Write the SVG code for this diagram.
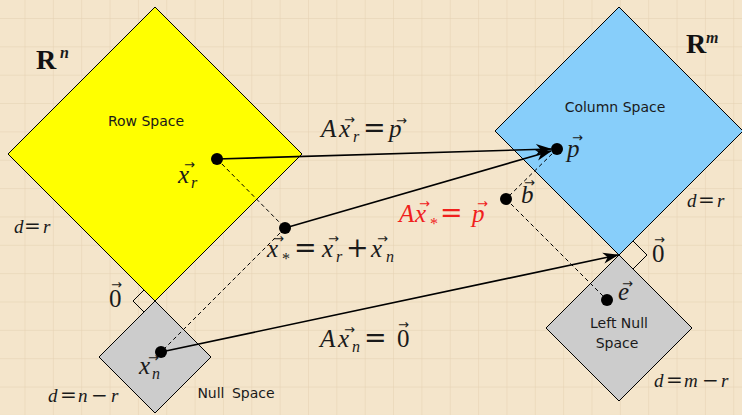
<svg xmlns="http://www.w3.org/2000/svg" width="742" height="415" viewBox="0 0 742 415">
<style>
.bg{fill:#f4e5cb}
.sp{stroke:#000;stroke-width:1}
.sans{font-family:"DejaVu Sans","Liberation Sans",sans-serif;font-size:14px;fill:#1a1a1a}
.m{font-family:"Liberation Serif","Times New Roman",serif;font-style:italic;font-size:25px;fill:#1a1a1a}
.up{font-style:normal}
.op{font-family:"DejaVu Serif",serif;font-style:normal;font-size:27px}
.dop{font-family:"DejaVu Serif",serif;font-style:normal;font-size:20px}
.sub{font-size:16px}
.d{font-family:"Liberation Serif",serif;font-style:italic;font-size:19px;fill:#1a1a1a}
.bold{font-family:"Liberation Serif",serif;font-weight:bold;font-size:28px;fill:#111}
.v{font-family:"DejaVu Sans",sans-serif;font-style:normal;font-size:13px}
.red{fill:#f0201c}
.arr{stroke:#000;stroke-width:1.6;fill:none;marker-end:url(#ah)}
.dash{stroke:#000;stroke-width:1;stroke-dasharray:4 3;fill:none}
.dot{fill:#000}
</style>
<defs>
<pattern id="grid" width="28.35" height="28.35" patternUnits="userSpaceOnUse" x="24.5" y="18">
<path d="M0,0 V28.35 M0,0 H28.35" stroke="#dcc7a6" stroke-width="1" fill="none" opacity="0.7"/>
</pattern>
<marker id="ah" viewBox="-16 -6 17 12" refX="0" refY="0" markerWidth="17" markerHeight="12" markerUnits="userSpaceOnUse" orient="auto">
<path d="M1,0 L-15,-5.5 L-10.5,0 L-15,5.5 Z" fill="#000"/>
</marker>
</defs>
<rect class="bg" x="0" y="0" width="742" height="415"/>
<rect x="0" y="0" width="742" height="415" fill="url(#grid)"/>

<g id="row-space">
<path d="M155,7 L302,154 L155,301 L8,154 Z" fill="#ffff00" class="sp"/>
<text class="sans" x="146" y="126" text-anchor="middle">Row Space</text>
</g>
<g id="null-space">
<path d="M155,301 L211,357 L155,413 L99,357 Z" fill="#cccccc" class="sp"/>
<text class="sans" x="236" y="398" text-anchor="middle" word-spacing="3">Null Space</text>
</g>
<g id="column-space">
<path d="M619,7 L743,131 L619,255 L495,131 Z" fill="#87cefa" class="sp"/>
<text class="sans" x="615" y="112" text-anchor="middle">Column Space</text>
</g>
<g id="left-null-space">
<path d="M619,255 L692,328 L619,401 L546,328 Z" fill="#cccccc" class="sp"/>
<text class="sans" x="619" y="328" text-anchor="middle">Left Null</text>
<text class="sans" x="617" y="348" text-anchor="middle">Space</text>
</g>

<g id="right-angles" fill="none" stroke="#000" stroke-width="1">
<path d="M144,290 L133,301 L144,312"/>
<path d="M633,241 L647,255 L633,269"/>
</g>

<g id="connectors">
<path class="dash" d="M217,159 L285,228"/>
<path class="dash" d="M285,228 L161,352"/>
<path class="dash" d="M557,149 L506,199"/>
<path class="dash" d="M506,199 L607,300"/>
<path class="arr" d="M217,159 L551,149"/>
<path class="arr" d="M285,228 L551,151"/>
<path class="arr" d="M161,352 L618,255"/>
</g>

<g id="points">
<circle class="dot" cx="217" cy="159" r="6"/>
<circle class="dot" cx="285" cy="228" r="6"/>
<circle class="dot" cx="161" cy="352" r="6"/>
<circle class="dot" cx="557" cy="149" r="6"/>
<circle class="dot" cx="506" cy="199" r="6"/>
<circle class="dot" cx="607" cy="300" r="6"/>
</g>

<g id="labels">
<text class="bold" x="36" y="69">R<tspan class="m sub" x="60" y="58">n</tspan></text>
<text class="bold" x="686" y="53">R<tspan class="m sub" x="706" y="43">m</tspan></text>

<text class="d" x="14" y="233">d<tspan class="dop" x="24">=</tspan><tspan x="43">r</tspan></text>
<text class="d" x="48" y="402">d<tspan class="dop" x="60">=</tspan><tspan x="78">n</tspan><tspan class="dop" x="91">−</tspan><tspan x="111">r</tspan></text>
<text class="d" x="687" y="207">d<tspan class="dop" x="698">=</tspan><tspan x="717">r</tspan></text>
<text class="d" x="654" y="387">d<tspan class="dop" x="666">=</tspan><tspan x="684">m</tspan><tspan class="dop" x="702">−</tspan><tspan x="721">r</tspan></text>

<text class="m" x="178" y="183">x<tspan class="sub" x="191" y="188">r</tspan><tspan class="v" x="184" y="169">→</tspan></text>

<text class="m" x="321" y="137">A<tspan x="339">x</tspan><tspan class="sub" x="353" y="142">r</tspan><tspan class="op" x="363" y="137">=</tspan><tspan x="389">p</tspan><tspan class="v" x="344" y="124">→</tspan><tspan class="v" x="396" y="125">→</tspan></text>

<text class="m" x="267" y="257">x<tspan class="sub up" x="282" y="264">*</tspan><tspan class="op" x="294" y="257">=</tspan><tspan x="322">x</tspan><tspan class="sub" x="336" y="262">r</tspan><tspan class="op" x="346" y="257">+</tspan><tspan x="371">x</tspan><tspan class="sub" x="386" y="262">n</tspan><tspan class="v" x="273" y="243">→</tspan><tspan class="v" x="328" y="243">→</tspan><tspan class="v" x="377" y="243">→</tspan></text>

<text class="m red" x="399" y="222">A<tspan x="415">x</tspan><tspan class="sub up" x="430" y="229">*</tspan><tspan class="op" x="440" y="222">=</tspan><tspan x="472">p</tspan><tspan class="v" x="419" y="208">→</tspan><tspan class="v" x="477" y="208">→</tspan></text>

<text class="m" x="521" y="203">b<tspan class="v" x="524" y="187">→</tspan></text>
<text class="m" x="567" y="157">p<tspan class="v" x="572" y="142">→</tspan></text>
<text class="m" x="618" y="300">e<tspan class="v" x="622" y="288">→</tspan></text>

<text class="m" x="139" y="374">x<tspan class="sub" x="152" y="379">n</tspan><tspan class="v" x="148" y="362">→</tspan></text>

<text class="m" x="320" y="347">A<tspan x="338">x</tspan><tspan class="sub" x="352" y="352">n</tspan><tspan class="op" x="364" y="347">=</tspan><tspan class="up" x="397">0</tspan><tspan class="v" x="344" y="334">→</tspan><tspan class="v" x="398" y="329">→</tspan></text>

<text class="m up" x="109" y="307">0<tspan class="v" x="111" y="289">→</tspan></text>
<text class="m up" x="652" y="262">0<tspan class="v" x="654" y="244">→</tspan></text>
</g>
</svg>
